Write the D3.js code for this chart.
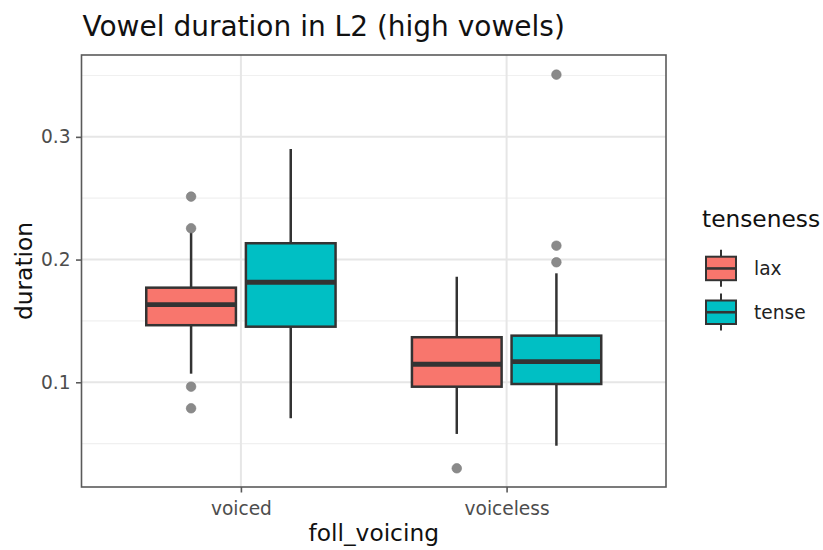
<!DOCTYPE html>
<html>
<head>
<meta charset="utf-8">
<script src="https://cdn.jsdelivr.net/npm/d3@7"></script>
<style>
  html, body { margin: 0; padding: 0; background: #fff; }
  svg text { font-family: "DejaVu Sans", sans-serif; }
</style>
</head>
<body>
<svg id="chart" width="823" height="550"></svg>
<script>
// Vowel duration summaries per following-voicing context and tenseness
const categories = ["voiced", "voiceless"];
const groups = ["lax", "tense"];
const groupColors = ["#F8766D", "#00BFC4"];

// five-number summaries: [lower whisker, Q1, median, Q3, upper whisker]
const voicedLax = [0.107, 0.1465, 0.1632, 0.1771, 0.223];
const voicedTense = [0.0707, 0.1453, 0.1815, 0.2133, 0.2901];
const voicelessLax = [0.0579, 0.0964, 0.1147, 0.1367, 0.186];
const voicelessTense = [0.0483, 0.0986, 0.1168, 0.138, 0.1888];

// outlying observations
const voicedLaxOutliers = [0.2513, 0.2255, 0.0964, 0.0788];
const voicedTenseOutliers = [];
const voicelessLaxOutliers = [0.0299];
const voicelessTenseOutliers = [0.3507, 0.2113, 0.1978];

const yTicks = [0.1, 0.2, 0.3];
const yMinor = [0.05, 0.15, 0.25, 0.35];

const boxes = [
  { cat: "voiced", group: "lax", stats: voicedLax, out: voicedLaxOutliers },
  { cat: "voiced", group: "tense", stats: voicedTense, out: voicedTenseOutliers },
  { cat: "voiceless", group: "lax", stats: voicelessLax, out: voicelessLaxOutliers },
  { cat: "voiceless", group: "tense", stats: voicelessTense, out: voicelessTenseOutliers }
];

const svg = d3.select("#chart");
const panel = { left: 81.5, right: 666, top: 55, bottom: 487 };

const y = d3.scaleLinear().domain([0.01466, 0.3667]).range([panel.bottom, panel.top]);
const x = d3.scalePoint().domain(categories).range([panel.left, panel.right]).padding(0.6);
const step = x.step();
const dodge = d3.scaleBand().domain(groups).range([-0.375 * step, 0.375 * step]);
const boxW = dodge.bandwidth() * 0.9;
const color = d3.scaleOrdinal().domain(groups).range(groupColors);

// panel grid
const grid = svg.append("g");
grid.selectAll(".minor").data(yMinor).join("line")
  .attr("x1", panel.left).attr("x2", panel.right)
  .attr("y1", d => y(d)).attr("y2", d => y(d))
  .attr("stroke", "#f0f0f0").attr("stroke-width", 1.2);
grid.selectAll(".major").data(yTicks).join("line")
  .attr("x1", panel.left).attr("x2", panel.right)
  .attr("y1", d => y(d)).attr("y2", d => y(d))
  .attr("stroke", "#e6e6e6").attr("stroke-width", 2);
grid.selectAll(".vmajor").data(categories).join("line")
  .attr("x1", d => x(d)).attr("x2", d => x(d))
  .attr("y1", panel.top).attr("y2", panel.bottom)
  .attr("stroke", "#e6e6e6").attr("stroke-width", 2);

// boxplots
const bx = svg.append("g");
boxes.forEach(b => {
  const cx = x(b.cat) + dodge(b.group) + dodge.bandwidth() / 2;
  const [lo, q1, med, q3, hi] = b.stats;
  const g = bx.append("g");
  g.append("line").attr("x1", cx).attr("x2", cx).attr("y1", y(q3)).attr("y2", y(hi))
    .attr("stroke", "#333").attr("stroke-width", 2.5);
  g.append("line").attr("x1", cx).attr("x2", cx).attr("y1", y(q1)).attr("y2", y(lo))
    .attr("stroke", "#333").attr("stroke-width", 2.5);
  g.append("rect").attr("x", cx - boxW / 2).attr("width", boxW)
    .attr("y", y(q3)).attr("height", y(q1) - y(q3))
    .attr("fill", color(b.group)).attr("stroke", "#333").attr("stroke-width", 2.5);
  g.append("line").attr("x1", cx - boxW / 2).attr("x2", cx + boxW / 2)
    .attr("y1", y(med)).attr("y2", y(med))
    .attr("stroke", "#333").attr("stroke-width", 4.8);
  g.selectAll("circle").data(b.out).join("circle")
    .attr("cx", cx).attr("cy", d => y(d)).attr("r", 4.8)
    .attr("fill", "#8a8a8a").attr("stroke", "#7a7a7a").attr("stroke-width", 0.6);
});

// panel border
svg.append("rect")
  .attr("x", panel.left).attr("y", panel.top)
  .attr("width", panel.right - panel.left).attr("height", panel.bottom - panel.top)
  .attr("fill", "none").attr("stroke", "#5a5a5a").attr("stroke-width", 1.6);

// axes
const yAxis = svg.append("g").attr("transform", `translate(${panel.left},0)`)
  .call(d3.axisLeft(y).tickValues(yTicks).tickFormat(d3.format(".1f")).tickSize(5.5).tickPadding(5.5));
const xAxis = svg.append("g").attr("transform", `translate(0,${panel.bottom})`)
  .call(d3.axisBottom(x).tickSize(5.5).tickPadding(9));
[yAxis, xAxis].forEach(a => {
  a.select(".domain").remove();
  a.selectAll(".tick line").attr("stroke", "#5a5a5a").attr("stroke-width", 1.6);
  a.selectAll(".tick text").attr("fill", "#4d4d4d").style("font-size", "18.6px")
    .style("font-family", "DejaVu Sans, sans-serif");
});

// titles
svg.append("text").attr("x", 82.5).attr("y", 35.5)
  .attr("fill", "#111").style("font-size", "28px").text("Vowel duration in L2 (high vowels)");
svg.append("text").attr("x", (panel.left + panel.right) / 2).attr("y", 541)
  .attr("text-anchor", "middle").attr("fill", "#111").style("font-size", "23.3px").text("foll_voicing");
svg.append("text").attr("transform", `translate(31.5,${(panel.top + panel.bottom) / 2}) rotate(-90)`)
  .attr("text-anchor", "middle").attr("fill", "#111").style("font-size", "23.3px").text("duration");

// legend
const legend = svg.append("g").attr("transform", "translate(702,0)");
legend.append("text").attr("x", 0).attr("y", 226.5).attr("fill", "#111")
  .style("font-size", "23.3px").text("tenseness");
const keyTop = [256.7, 300.5];
groups.forEach((gname, i) => {
  const k = legend.append("g").attr("transform", `translate(4,${keyTop[i]})`);
  k.append("line").attr("x1", 15).attr("x2", 15).attr("y1", -7).attr("y2", 30)
    .attr("stroke", "#333").attr("stroke-width", 2);
  k.append("rect").attr("x", 0).attr("y", 0).attr("width", 30).attr("height", 23.5)
    .attr("fill", color(gname)).attr("stroke", "#333").attr("stroke-width", 2);
  k.append("line").attr("x1", 0).attr("x2", 30).attr("y1", 11.75).attr("y2", 11.75)
    .attr("stroke", "#333").attr("stroke-width", 2.6);
  legend.append("text").attr("x", 52).attr("y", keyTop[i] + 18.5)
    .attr("fill", "#222").style("font-size", "18.6px").text(gname);
});
</script>
</body>
</html>
